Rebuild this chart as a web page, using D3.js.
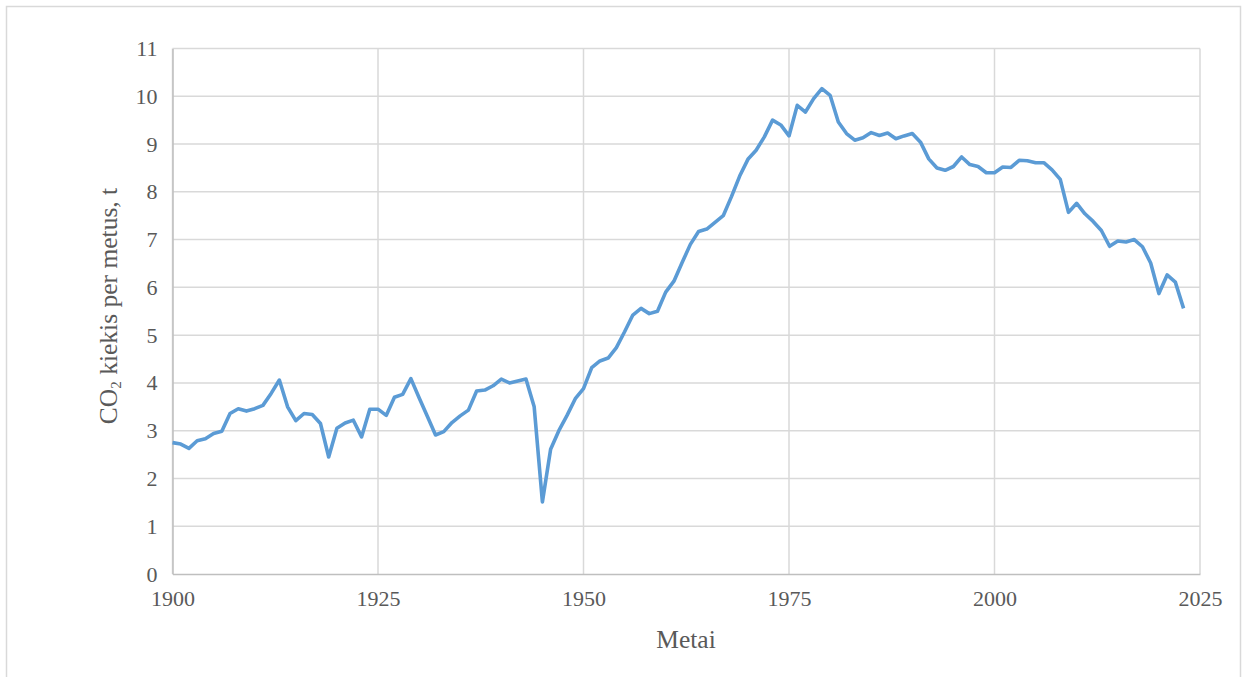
<!DOCTYPE html>
<html>
<head>
<meta charset="utf-8">
<script src="https://cdn.jsdelivr.net/npm/d3@7"></script>
<style>
    body { margin: 0; background: #fff; }
    svg { display: block; }
    .axis text { font-family: "Liberation Serif", "Times New Roman", serif; fill: #595959; }
</style>
</head>
<body>
<div id="wrapper"></div>
<script>
// CO2 per capita, tonnes per year
const years = d3.range(1900, 2024);
const values = [
    2.75, 2.72, 2.63, 2.79, 2.83, 2.94, 2.99, 3.36, 3.46, 3.41,
    3.46, 3.53, 3.78, 4.06, 3.50, 3.21, 3.36, 3.34, 3.15, 2.45,
    3.05, 3.16, 3.22, 2.87, 3.45, 3.45, 3.32, 3.70, 3.76, 4.09,
    3.69, 3.30, 2.91, 2.98, 3.17, 3.31, 3.43, 3.83, 3.85, 3.94,
    4.08, 4.00, 4.04, 4.08, 3.50, 1.51, 2.61, 3.00, 3.32, 3.67,
    3.88, 4.32, 4.46, 4.52, 4.74, 5.07, 5.42, 5.56, 5.45, 5.50,
    5.90, 6.13, 6.52, 6.90, 7.17, 7.22, 7.36, 7.50, 7.90, 8.33,
    8.68, 8.87, 9.15, 9.50, 9.40, 9.17, 9.81, 9.67, 9.95, 10.16,
    10.02, 9.46, 9.22, 9.08, 9.13, 9.24, 9.18, 9.23, 9.11, 9.17,
    9.22, 9.04, 8.69, 8.50, 8.45, 8.53, 8.73, 8.57, 8.53, 8.40,
    8.40, 8.52, 8.51, 8.66, 8.65, 8.61, 8.61, 8.46, 8.26, 7.57,
    7.76, 7.54, 7.38, 7.19, 6.86, 6.97, 6.95, 7.00, 6.85, 6.51,
    5.87, 6.26, 6.11, 5.56
];
const xTicks = [1900, 1925, 1950, 1975, 2000, 2025];
const yTicks = d3.range(0, 12);

const data = years.map((year, i) => ({ year, value: values[i] }));

var dimension = {
    width: 1246,
    height: 677,
    margin: { top: 48.5, right: 46, bottom: 103, left: 172.5 }
};
dimension.boundedWidth = dimension.width - dimension.margin.left - dimension.margin.right;
dimension.boundedHeight = dimension.height - dimension.margin.top - dimension.margin.bottom;

const svg = d3.select("#wrapper")
    .append("svg")
    .attr("width", dimension.width)
    .attr("height", dimension.height);

// outer chart border (bottom edge runs off the picture)
svg.append("path")
    .attr("d", "M6.5,680 V6.5 H1240.5 V680")
    .attr("fill", "none")
    .attr("stroke", "#d9d9d9")
    .attr("stroke-width", 1.5);

const bounds = svg.append("g")
    .attr("transform", `translate(${dimension.margin.left},${dimension.margin.top})`);

const x = d3.scaleLinear()
    .domain([1900, 2025])
    .range([0, dimension.boundedWidth]);

const y = d3.scaleLinear()
    .domain([0, 11])
    .range([dimension.boundedHeight, 0]);

// gridlines
bounds.append("g")
    .selectAll("line.h")
    .data(yTicks.slice(1))
    .enter()
    .append("line")
    .attr("x1", 0)
    .attr("x2", dimension.boundedWidth)
    .attr("y1", d => y(d))
    .attr("y2", d => y(d))
    .attr("stroke", "#d9d9d9")
    .attr("stroke-width", 1.5);

bounds.append("g")
    .selectAll("line.v")
    .data(xTicks)
    .enter()
    .append("line")
    .attr("x1", d => x(d))
    .attr("x2", d => x(d))
    .attr("y1", 0)
    .attr("y2", dimension.boundedHeight)
    .attr("stroke", "#d9d9d9")
    .attr("stroke-width", 1.5);

// axes
const xAxis = bounds.append("g")
    .attr("class", "axis")
    .attr("transform", `translate(0,${dimension.boundedHeight})`)
    .call(d3.axisBottom(x).tickValues(xTicks).tickFormat(d3.format("d")).tickSize(0).tickPadding(16));
xAxis.select(".domain").attr("stroke", "#bfbfbf").attr("stroke-width", 1.5);
xAxis.selectAll("text").style("font-size", "22px");

const yAxis = bounds.append("g")
    .attr("class", "axis")
    .call(d3.axisLeft(y).tickValues(yTicks).tickFormat(d3.format("d")).tickSize(0).tickPadding(15));
yAxis.select(".domain").attr("stroke", "#bfbfbf").attr("stroke-width", 1.5);
yAxis.selectAll("text").style("font-size", "22px");

// data line
const line = d3.line()
    .x(d => x(d.year))
    .y(d => y(d.value));

bounds.append("path")
    .datum(data)
    .attr("d", line)
    .attr("fill", "none")
    .attr("stroke", "#5b9bd5")
    .attr("stroke-width", 3.6)
    .attr("stroke-linejoin", "round");

// axis titles
svg.append("text")
    .attr("class", "axis")
    .attr("x", 686)
    .attr("y", 648)
    .attr("text-anchor", "middle")
    .style("font-family", "'Liberation Serif', serif")
    .style("font-size", "25.5px")
    .style("fill", "#595959")
    .text("Metai");

const yTitle = svg.append("text")
    .attr("transform", `translate(117,306) rotate(-90)`)
    .attr("text-anchor", "middle")
    .style("font-family", "'Liberation Serif', serif")
    .style("font-size", "25.5px")
    .style("fill", "#595959");
yTitle.append("tspan").text("CO");
yTitle.append("tspan").text("2").style("font-size", "15px").attr("dy", 4);
yTitle.append("tspan").text(" kiekis per metus, t").attr("dy", -4);
</script>
</body>
</html>
